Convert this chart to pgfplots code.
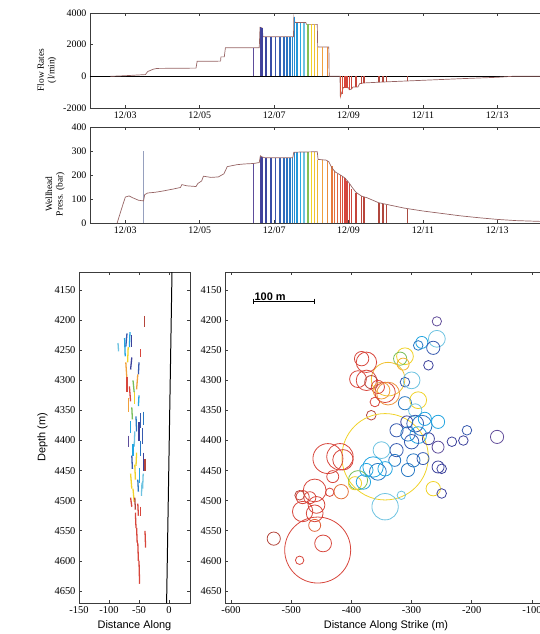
\documentclass[border=0pt]{standalone}
\usepackage{fontspec}
\setmainfont{Liberation Serif}
\setsansfont{Liberation Sans}
\usepackage{pgfplots}
\usepackage{pgfplotstable}
\pgfplotsset{compat=1.18}

\definecolor{axgray}{RGB}{60,60,60}
\definecolor{trace}{RGB}{150,100,100}

\pgfplotsset{
  colormap={evt}{
    rgb255(64pt)=(100,80,155)
    rgb255(67pt)=(60,65,155)
    rgb255(71pt)=(55,90,175)
    rgb255(74pt)=(40,120,195)
    rgb255(77pt)=(35,165,225)
    rgb255(78pt)=(110,195,225)
    rgb255(79pt)=(120,190,90)
    rgb255(80pt)=(240,210,40)
    rgb255(83pt)=(240,160,60)
    rgb255(89pt)=(215,70,60)
    rgb255(95pt)=(180,70,60)
    rgb255(106pt)=(170,75,65)
  },
  every axis/.append style={
    scale only axis,
    axis line style={axgray, line width=0.9pt},
    tick style={axgray, line width=0.6pt},
    major tick length=3bp,
    tick label style={font=\fontsize{10}{11}\selectfont},
    /pgf/number format/assume math mode=true,
    /pgf/number format/1000 sep={},
    point meta min=6.4, point meta max=10.6,
  },
}

% event times (day of December), flow rate (l/min), wellhead pressure (bar)
\pgfplotstableread{
t q p
6.45 1800 248
6.63 3100 280
6.67 3050 276
6.78 2500 272
6.91 2500 272
7.04 2500 272
7.16 2500 272
7.26 2500 272
7.35 2500 272
7.43 2500 272
7.50 2500 272
7.55 3750 295
7.61 3400 297
7.71 3400 297
7.80 3380 297
7.91 3300 297
8.00 3280 297
8.09 3280 297
8.17 1850 264
8.30 1850 262
8.43 1850 260
8.55 0 238
8.62 0 215
8.70 0 206
8.78 -1300 200
8.84 -1100 194
8.90 -720 186
8.96 -720 176
9.02 -850 162
9.08 -780 142
9.20 -680 127
9.35 -460 112
9.42 -440 108
9.82 -360 84
9.92 -350 80
10.02 -340 77
10.58 -290 60
}\events

% flow rate history
\pgfplotstableread{
t q
2.60 0
3.00 40
3.30 80
3.54 110
3.60 300
3.75 450
3.85 500
4.90 520
4.93 950
5.56 960
5.57 1230
5.66 1230
5.69 1800
6.60 1800
6.62 3100
6.68 3050
6.70 2500
7.52 2500
7.53 3750
7.56 3400
7.85 3400
7.87 3280
8.16 3280
8.17 1850
8.47 1850
8.48 0
8.77 0
8.78 -1300
8.82 -1000
8.86 -700
9.00 -720
9.02 -850
9.08 -800
9.12 -680
9.25 -680
9.30 -460
9.40 -420
10.00 -350
11.00 -250
12.00 -150
13.00 -60
13.40 0
14.30 0
}\flow

% wellhead pressure history
\pgfplotstableread{
t p
2.78 0
2.90 60
3.00 108
3.10 113
3.20 105
3.35 95
3.49 92
3.52 118
3.60 125
3.80 128
4.00 133
4.30 142
4.48 148
4.52 160
4.65 155
4.90 152
4.95 165
5.05 175
5.10 195
5.30 190
5.50 192
5.65 205
5.74 235
6.00 243
6.20 246
6.45 248
6.60 252
6.63 280
6.68 275
6.75 272
7.50 272
7.53 295
8.16 297
8.18 265
8.40 262
8.47 255
8.55 230
8.65 212
8.75 203
8.90 188
9.00 170
9.10 148
9.20 128
9.35 112
9.50 105
9.80 85
10.10 75
10.50 62
11.00 50
11.50 40
12.00 30
12.50 22
13.00 15
13.50 10
14.30 6
}\press

% event circles: along strike (m), depth (m), radius (m), time
\pgfplotstableread{
x d r t
-258 4202 7.8 6.4
-258 4231 14 7.8
-283 4237 10 7.7
-289 4242 8 7.4
-264 4246 11 7.1
-272 4275 8 6.7
-311 4260 14 8.0
-319 4264 11 7.9
-314 4273 10 8.2
-339 4298 28 8.1
-383 4264 12 8.9
-375 4270 17 8.9
-389 4298 14 8.9
-375 4300 17 8.9
-367 4303 11 9.5
-356 4311 11 8.9
-350 4317 14 8.3
-344 4320 17 8.9
-339 4322 19 8.4
-361 4336 8 8.9
-367 4358 8 9.5
-311 4303 8 7.1
-300 4300 14 7.8
-311 4338 11 7.4
-289 4333 14 8.0
-294 4350 11 7.8
-344 4427 72 8.0
-308 4369 10 6.7
-294 4372 14 7.1
-283 4375 17 7.4
-278 4364 11 7.7
-256 4369 11 7.7
-325 4383 11 7.1
-306 4389 12 7.4
-289 4391 14 7.7
-300 4402 12 7.1
-272 4397 10 6.7
-256 4411 10 6.45
-233 4402 8 6.7
-214 4400 8 6.7
-208 4383 8 7.1
-158 4394 11 6.4
-325 4416 11 7.1
-297 4433 11 7.4
-281 4430 10 7.1
-328 4433 10 7.4
-350 4416 14 7.8
-364 4444 17 7.7
-356 4452 14 7.4
-344 4447 12 7.7
-375 4449 11 7.7
-389 4466 16 7.9
-394 4471 11 8.0
-380 4469 12 7.7
-306 4449 11 7.4
-256 4444 10 6.7
-250 4447 8 6.7
-264 4480 12 8.0
-250 4488 8 6.7
-344 4510 22 7.8
-317 4491 7 7.8
-417 4485 12 8.6
-436 4486 7 8.9
-439 4430 25 8.9
-419 4427 22 8.9
-414 4432 17 8.9
-431 4460 10 8.9
-461 4483 19 8.9
-486 4491 8 9.5
-481 4494 11 8.9
-469 4495 10 8.9
-458 4507 14 8.9
-461 4521 14 8.9
-481 4518 17 8.9
-461 4541 10 8.7
-456 4582 55 8.9
-447 4571 14 8.9
-486 4599 7 8.9
-529 4563 11 9.5
}\circles

% event planes seen edge-on: start x, start depth, dx, ddepth, time
\pgfplotstableread{
x d u v t
-41 4193 0 18 9.5
-70 4222 -2 22 7.1
-65 4220 -1 25 7.7
-62 4225 0 20 6.7
-85 4238 1 14 7.8
-74 4230 1 30 7.7
-68 4245 -1 25 8.0
-47 4248 0 14 8.9
-62 4262 -2 20 6.7
-50 4270 -1 20 7.1
-72 4270 2 30 8.3
-70 4295 0 25 8.9
-52 4290 -2 25 8.3
-66 4310 2 25 8.9
-60 4300 2 20 7.9
-57 4320 0 20 8.0
-67 4330 0 22 8.3
-50 4325 -1 18 7.7
-62 4345 1 20 7.9
-47 4355 0 25 7.1
-42 4352 0 22 7.4
-55 4360 1 25 7.4
-64 4368 0 20 7.7
-50 4370 0 30 6.7
-44 4380 0 25 7.1
-57 4385 -1 25 7.8
-68 4392 0 18 6.45
-47 4400 0 25 7.4
-60 4405 0 20 7.7
-54 4420 -1 22 8.0
-42 4420 0 30 6.7
-40 4430 0 20 9.5
-62 4425 1 22 7.1
-57 4440 1 25 8.0
-49 4445 0 25 7.7
-43 4455 -1 25 7.8
-64 4455 2 25 8.0
-52 4465 1 20 7.4
-45 4470 -1 22 7.8
-60 4480 2 22 8.0
-64 4495 2 15 8.9
-57 4495 1 20 9.5
-52 4505 1 20 8.9
-47 4510 0 15 8.9
-56 4520 1 25 8.9
-54 4545 1 25 8.9
-40 4550 1 28 8.9
-52 4570 1 30 8.9
-50 4600 1 38 8.9
}\planes

\begin{document}
\begin{tikzpicture}

% ---- flow rates
\begin{axis}[
  at={(90bp,-13bp)}, anchor=north west,
  width=455.7bp, height=95bp,
  xmin=2.05, xmax=14.3, ymin=-2000, ymax=4000,
  xtick={3,5,...,13},
  xticklabels={12/03,12/05,12/07,12/09,12/11,12/13},
  ytick={-2000,0,2000,4000},
  ylabel={Flow Rates\\(l/min)},
  ylabel style={align=center, font=\fontsize{9.5}{10.5}\selectfont, at={(ticklabel cs:0.4)}},
]
\addplot[black, line width=0.6pt] coordinates {(2.05,0) (14.3,0)};
\addplot[trace, line width=0.7pt] table[x=t, y=q] {\flow};
\addplot[quiver={u=0, v=\thisrow{q}, colored=mapped color},
  point meta=\thisrow{t}, line width=1.5pt, no marks]
  table[x=t, y expr=0] {\events};
\end{axis}

% ---- wellhead pressure
\begin{axis}[
  at={(90bp,-127bp)}, anchor=north west,
  width=455.7bp, height=96bp,
  xmin=2.05, xmax=14.3, ymin=0, ymax=400,
  xtick={3,5,...,13},
  xticklabels={12/03,12/05,12/07,12/09,12/11,12/13},
  ytick={0,100,...,400},
  ylabel={Wellhead\\Press. (bar)},
  ylabel style={align=center, font=\fontsize{9.5}{10.5}\selectfont, at={(ticklabel cs:0.3)}},
]
\addplot[color={rgb,255:red,150;green,160;blue,190}, line width=0.6pt] coordinates {(3.49,0) (3.49,300)};
\addplot[quiver={u=0, v=\thisrow{p}, colored=mapped color},
  point meta=\thisrow{t}, line width=1.5pt, no marks]
  table[x=t, y expr=0] {\events};
\addplot[trace, line width=0.7pt] table[x=t, y=p] {\press};
\end{axis}

% ---- depth section
\begin{axis}[
  at={(79bp,-272bp)}, anchor=north west,
  width=111bp, height=331bp,
  xmin=-150, xmax=35, ymin=4120, ymax=4670, y dir=reverse,
  xtick={-150,-100,-50,0},
  ytick={4150,4200,...,4650},
  tick label style={font=\fontsize{10.5}{11}\selectfont},
  xlabel={Distance Along}, ylabel={Depth (m)},
  label style={font=\sffamily\fontsize{11}{12}\selectfont},
]
\addplot[quiver={u=\thisrow{u}, v=\thisrow{v}, colored=mapped color},
  point meta=\thisrow{t}, line width=1.3pt, no marks]
  table[x=x, y=d] {\planes};
\addplot[black, line width=1pt] coordinates {(5,4120) (-4,4670)};
\end{axis}

% ---- along strike view
\begin{axis}[
  at={(225bp,-272bp)}, anchor=north west,
  width=322bp, height=331bp,
  xmin=-610, xmax=-75, ymin=4120, ymax=4670, y dir=reverse,
  xtick={-600,-500,...,-100},
  ytick={4150,4200,...,4650},
  tick label style={font=\fontsize{10.5}{11}\selectfont},
  xlabel={Distance Along Strike (m)},
  label style={font=\sffamily\fontsize{11}{12}\selectfont},
]
\addplot[scatter, only marks, mark=o,
  point meta=\thisrow{t},
  scatter/use mapped color={draw=mapped color, fill=none},
  visualization depends on={\thisrow{r} \as \rad},
  scatter/@pre marker code/.append style={/tikz/mark size=\rad*0.602},
  mark options={line width=0.8pt}]
  table[x=x, y=d] {\circles};
\addplot[black, line width=1.3pt, mark=|, mark options={line width=1pt, mark size=3pt}]
  coordinates {(-562,4169) (-461,4169)};
\node[anchor=south west, inner sep=0.5pt, font=\sffamily\bfseries\fontsize{11}{12}\selectfont]
  at (axis cs:-562,4169) {100 m};
\end{axis}

\pgfresetboundingbox
\path[use as bounding box] (0,0) rectangle (540bp,-634bp);
\end{tikzpicture}
\end{document}
